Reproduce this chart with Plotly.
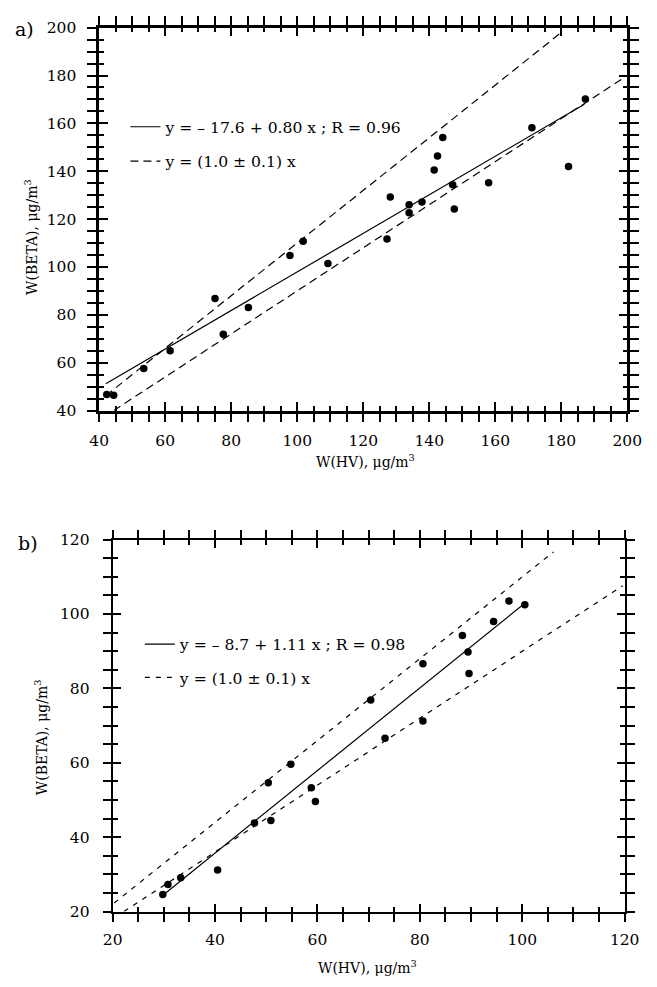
import plotly.graph_objects as go

W, H = 657, 987

# ---------------- data: panel a ----------------
a_hv = [42.3, 44.4, 53.5, 61.5, 75.1, 77.6, 85.2, 97.8, 101.8, 109.3, 127.2, 128.2,
        133.9, 133.9, 137.8, 141.5, 142.5, 144.1, 147.1, 147.6, 158.0, 171.1, 182.2, 187.3]
a_beta = [46.7, 46.4, 57.6, 65.0, 86.8, 71.9, 83.1, 104.8, 110.7, 101.4, 111.7, 129.2,
          126.0, 122.7, 127.1, 140.5, 146.4, 154.1, 134.4, 124.2, 135.2, 158.2, 142.0, 170.2]
a_fit_x = [42.0, 187.0]
a_fit_y = [51.2, 168.0]
a_up_x = [42.0, 180.0]
a_up_y = [46.2, 198.0]
a_lo_x = [44.4, 200.0]
a_lo_y = [40.0, 180.0]
a_fit_label = "y = \u2013 17.6 + 0.80 x ; R = 0.96"

# ---------------- data: panel b ----------------
b_hv = [29.8, 30.8, 33.3, 40.5, 47.7, 50.9, 50.4, 54.8, 58.8, 59.6, 70.4, 73.2,
        80.6, 80.6, 88.3, 89.4, 89.6, 94.4, 97.4, 100.5]
b_beta = [24.6, 27.3, 29.1, 31.2, 43.8, 44.5, 54.6, 59.6, 53.3, 49.6, 76.9, 66.6,
          86.6, 71.2, 94.2, 89.8, 84.0, 98.0, 103.5, 102.5]
b_fit_x = [30.0, 100.5]
b_fit_y = [24.6, 102.9]
b_up_x = [20.3, 106.1]
b_up_y = [22.3, 116.7]
b_lo_x = [22.2, 119.6]
b_lo_y = [20.0, 107.6]
b_fit_label = "y = \u2013 8.7 + 1.11 x ; R = 0.98"

band_label = "y = (1.0 \u00b1 0.1) x"
x_title = "W(HV), \u03bcg/m<sup>3</sup>"
y_title = "W(BETA), \u03bcg/m<sup>3</sup>"
a_range = [40, 200]
b_range = [20, 120]

FONT = "DejaVu Serif"
BLACK = "black"


def px_x(p):
    return p / W


def px_y(p):
    return 1 - p / H


fig = go.Figure()

# panel a traces
fig.add_trace(go.Scatter(x=a_fit_x, y=a_fit_y, mode="lines", name=a_fit_label,
                         line=dict(color=BLACK, width=1.2), xaxis="x", yaxis="y",
                         legend="legend", legendgroup="a1"))
fig.add_trace(go.Scatter(x=a_up_x, y=a_up_y, mode="lines", name=band_label,
                         line=dict(color=BLACK, width=1.2, dash="8px,5px"), xaxis="x", yaxis="y",
                         legend="legend", legendgroup="a2"))
fig.add_trace(go.Scatter(x=a_lo_x, y=a_lo_y, mode="lines", showlegend=False,
                         line=dict(color=BLACK, width=1.2, dash="8px,5px"), xaxis="x", yaxis="y"))
fig.add_trace(go.Scatter(x=a_hv, y=a_beta, mode="markers", showlegend=False,
                         marker=dict(color=BLACK, size=7.5), xaxis="x", yaxis="y"))

# panel b traces
fig.add_trace(go.Scatter(x=b_fit_x, y=b_fit_y, mode="lines", name=b_fit_label,
                         line=dict(color=BLACK, width=1.2), xaxis="x2", yaxis="y2",
                         legend="legend2", legendgroup="b1"))
fig.add_trace(go.Scatter(x=b_up_x, y=b_up_y, mode="lines", name=band_label,
                         line=dict(color=BLACK, width=1.2, dash="5px,6px"), xaxis="x2", yaxis="y2",
                         legend="legend2", legendgroup="b2"))
fig.add_trace(go.Scatter(x=b_lo_x, y=b_lo_y, mode="lines", showlegend=False,
                         line=dict(color=BLACK, width=1.2, dash="5px,6px"), xaxis="x2", yaxis="y2"))
fig.add_trace(go.Scatter(x=b_hv, y=b_beta, mode="markers", showlegend=False,
                         marker=dict(color=BLACK, size=7.5), xaxis="x2", yaxis="y2"))

# invisible traces that activate the overlay axes carrying the inward half of each tick
for xa, ya in [("x3", "y"), ("x", "y3"), ("x4", "y2"), ("x2", "y4")]:
    fig.add_trace(go.Scatter(x=[None], y=[None], xaxis=xa, yaxis=ya, mode="markers",
                             showlegend=False, hoverinfo="skip"))

a_xdom = [px_x(92.7), px_x(641.7)]
a_ydom = [px_y(409), px_y(19)]
b_xdom = [px_x(106.7), px_x(639.0)]
b_ydom = [px_y(919.3), px_y(540.5)]

tickfont = dict(family=FONT, size=15.5, color=BLACK)


def main_axis(dom, rng, anchor, lw, standoff, majlen, minlen):
    return dict(domain=dom, range=rng, anchor=anchor, dtick=20, tick0=0,
                ticks="outside", ticklen=majlen, tickwidth=2, tickcolor=BLACK,
                minor=dict(dtick=5, tick0=0, ticks="outside", ticklen=minlen,
                           tickwidth=2, tickcolor=BLACK, showgrid=False),
                showline=True, linewidth=lw, linecolor=BLACK, mirror="allticks",
                showgrid=False, zeroline=False, tickfont=tickfont,
                ticklabelstandoff=standoff)


def overlay_axis(dom, rng, anchor, over, lw, majlen, minlen):
    return dict(domain=dom, range=rng, anchor=anchor, overlaying=over, dtick=20, tick0=0,
                ticks="inside", ticklen=majlen, tickwidth=2, tickcolor=BLACK,
                minor=dict(dtick=5, tick0=0, ticks="inside", ticklen=minlen,
                           tickwidth=2, tickcolor=BLACK, showgrid=False),
                showline=True, linewidth=lw, linecolor=BLACK, mirror="allticks",
                showgrid=False, zeroline=False, showticklabels=False)


layout = dict(
    width=W, height=H,
    margin=dict(l=0, r=0, t=0, b=0),
    paper_bgcolor="white", plot_bgcolor="white",
    font=dict(family=FONT, color=BLACK),
    xaxis=main_axis(a_xdom, a_range, "y", 2.5, 5, 9, 5),
    yaxis=main_axis(a_ydom, a_range, "x", 2.5, 8, 9, 5),
    xaxis2=main_axis(b_xdom, b_range, "y2", 2, 5, 8, 5),
    yaxis2=main_axis(b_ydom, b_range, "x2", 2, 10, 8, 5),
    xaxis3=overlay_axis(a_xdom, a_range, "y", "x", 2.5, 9, 5),
    yaxis3=overlay_axis(a_ydom, a_range, "x", "y", 2.5, 9, 5),
    xaxis4=overlay_axis(b_xdom, b_range, "y2", "x2", 2, 8, 5),
    yaxis4=overlay_axis(b_ydom, b_range, "x2", "y2", 2, 8, 5),
    legend=dict(x=px_x(120), y=px_y(103), xanchor="left", yanchor="top",
                bgcolor="rgba(0,0,0,0)", borderwidth=0, traceorder="grouped",
                tracegroupgap=11, itemwidth=30,
                font=dict(family=FONT, size=15.6, color=BLACK)),
    legend2=dict(x=px_x(135), y=px_y(630), xanchor="left", yanchor="top",
                 bgcolor="rgba(0,0,0,0)", borderwidth=0, traceorder="grouped",
                 tracegroupgap=10, itemwidth=30,
                 font=dict(family=FONT, size=15.6, color=BLACK)),
    showlegend=True,
)
fig.update_layout(**layout)

ann = []
tfont = dict(family=FONT, size=14, color=BLACK)
ann.append(dict(text=x_title, x=px_x(370), y=px_y(460), xref="paper", yref="paper",
                showarrow=False, font=tfont, xanchor="center", yanchor="middle"))
ann.append(dict(text=x_title, x=px_x(372), y=px_y(976), xref="paper", yref="paper",
                showarrow=False, font=tfont, xanchor="center", yanchor="middle"))
ann.append(dict(text=y_title, x=px_x(22), y=px_y(232), xref="paper", yref="paper",
                showarrow=False, font=tfont, textangle=-90, xanchor="center", yanchor="middle"))
ann.append(dict(text=y_title, x=px_x(33), y=px_y(742), xref="paper", yref="paper",
                showarrow=False, font=tfont, textangle=-90, xanchor="center", yanchor="middle"))
ann.append(dict(text="a)", x=px_x(3), y=px_y(20), xref="paper", yref="paper",
                showarrow=False, font=dict(family=FONT, size=19, color=BLACK),
                xanchor="left", yanchor="middle"))
ann.append(dict(text="b)", x=px_x(6), y=px_y(544), xref="paper", yref="paper",
                showarrow=False, font=dict(family=FONT, size=19, color=BLACK),
                xanchor="left", yanchor="middle"))
fig.update_layout(annotations=ann)

fig.write_html("out.html", config={"displayModeBar": False},
               post_script="document.body.style.margin='0px';")
